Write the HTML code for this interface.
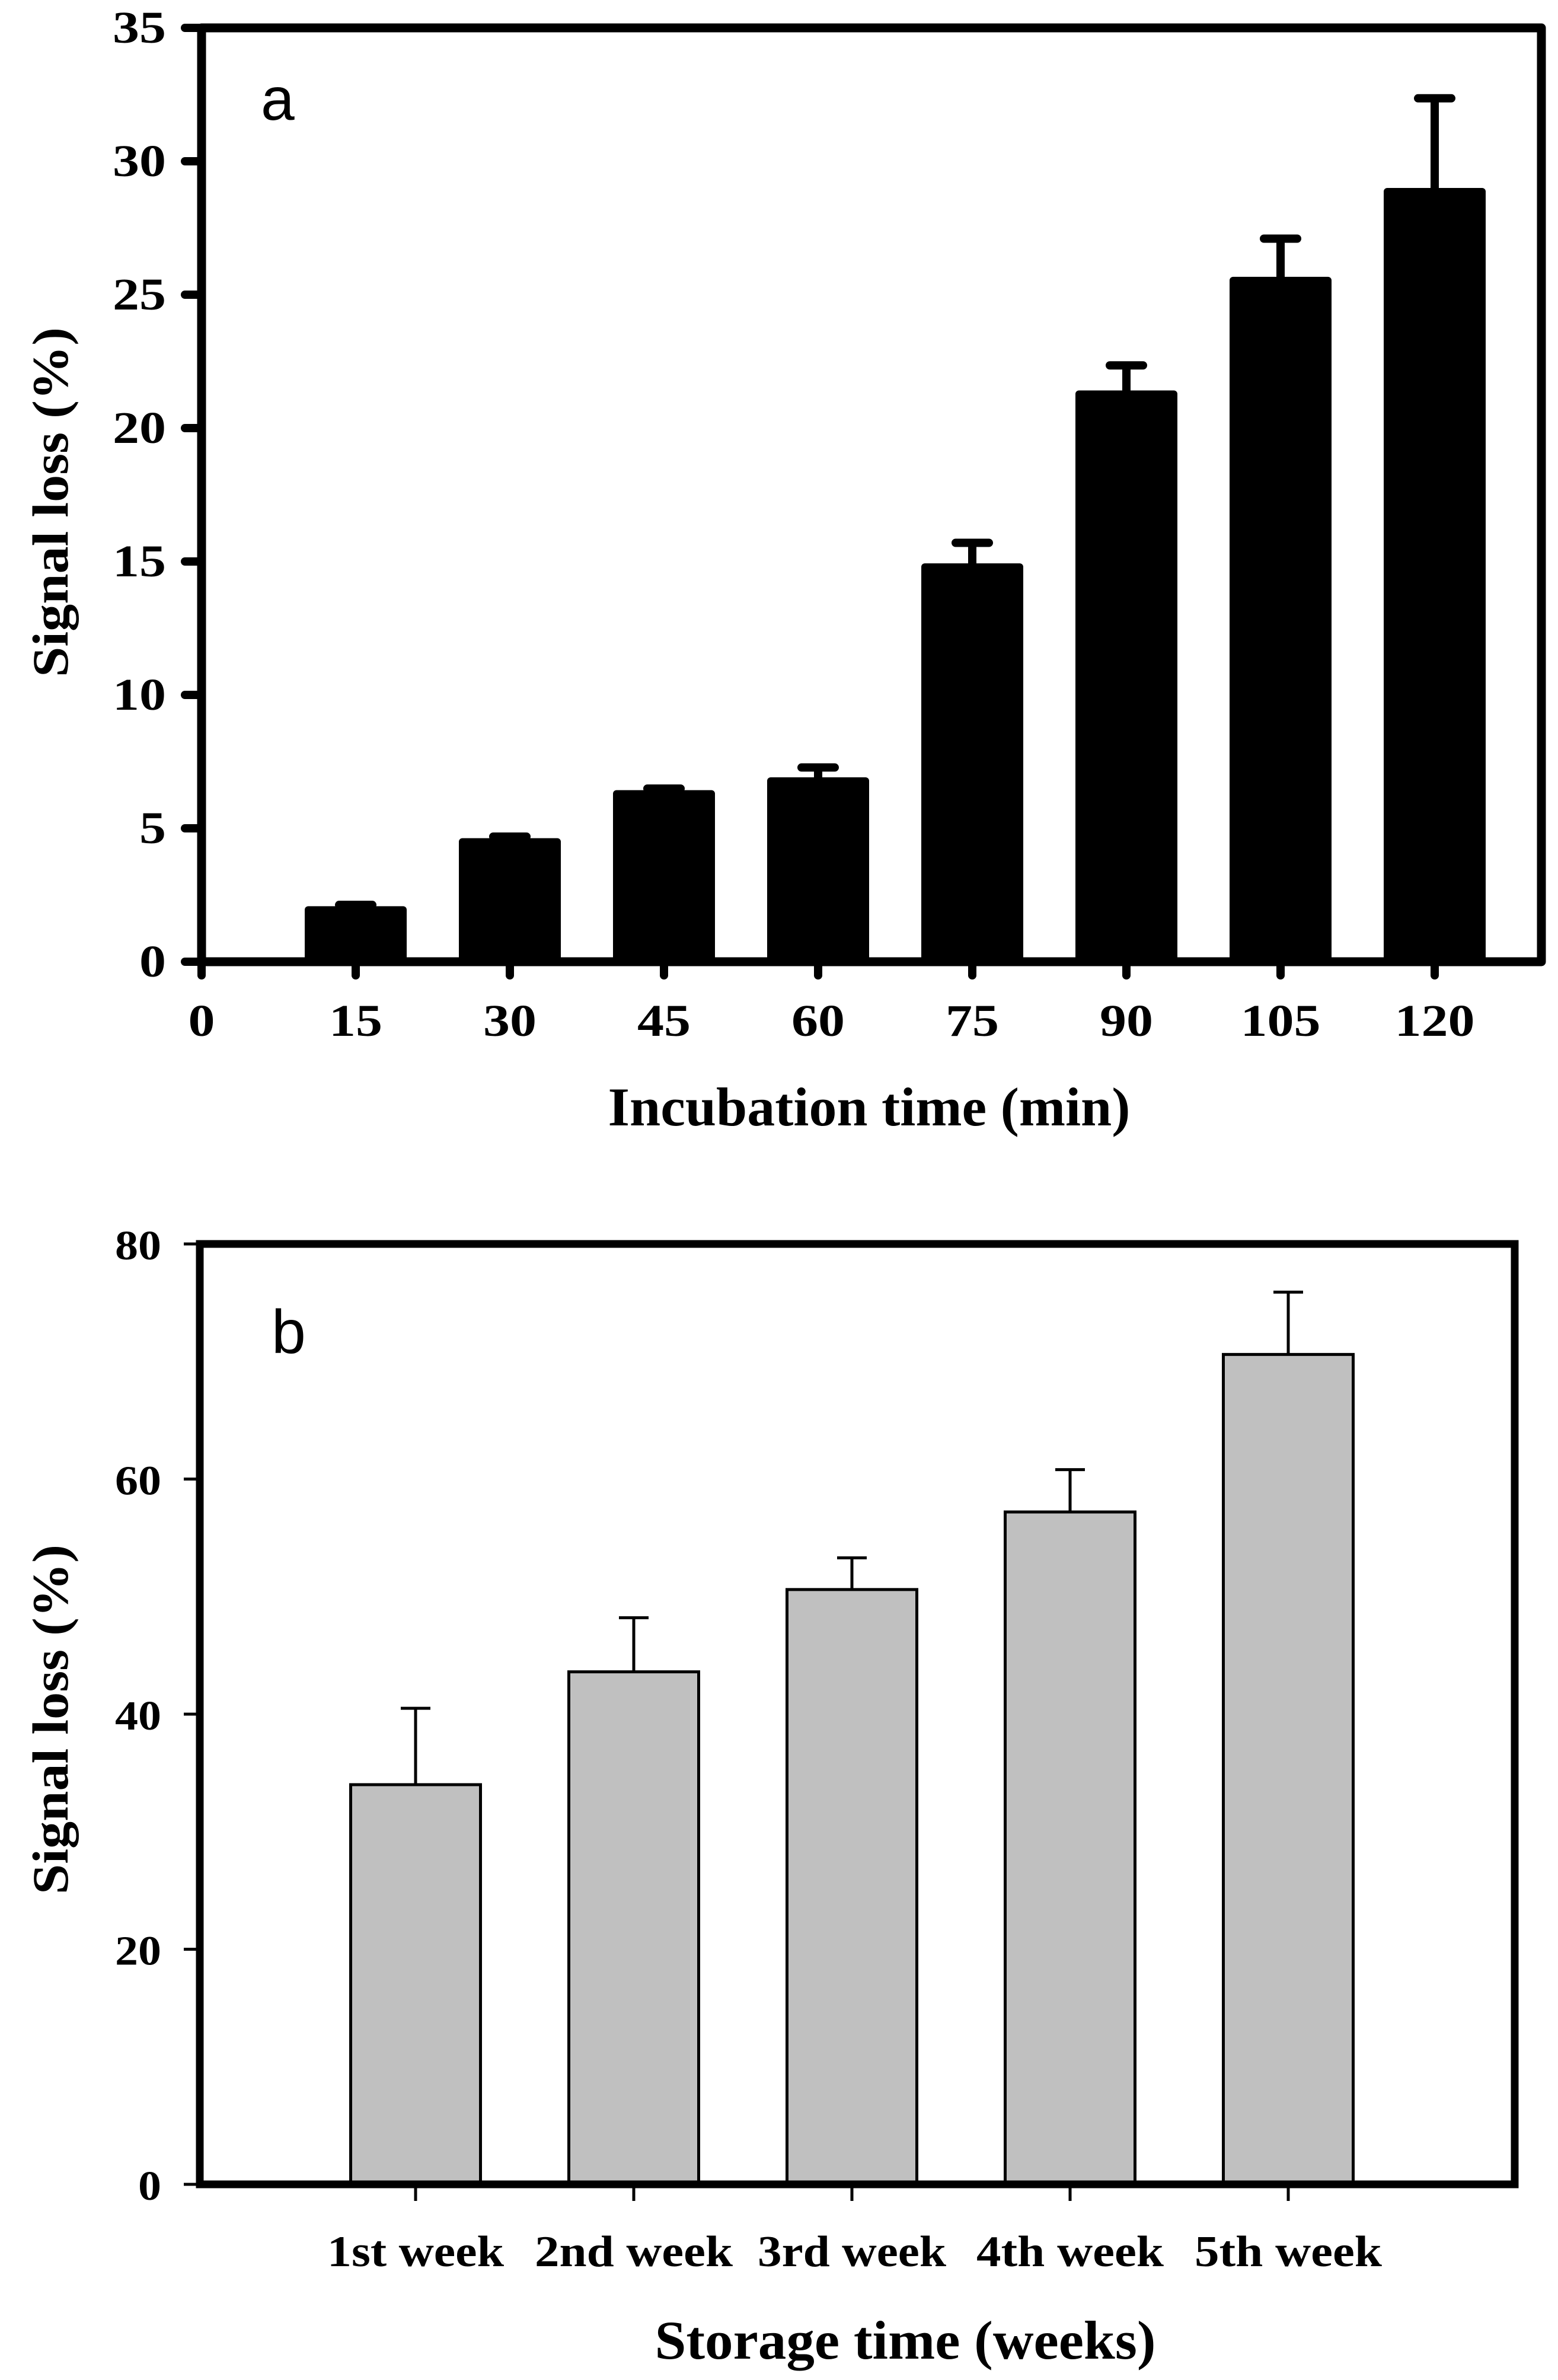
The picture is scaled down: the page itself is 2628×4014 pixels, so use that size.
<!DOCTYPE html>
<html><head><meta charset="utf-8"><style>
html,body{margin:0;padding:0;background:#fff;}
svg{display:block;}
text{font-family:"Liberation Serif",serif;font-weight:bold;fill:#000;}
</style></head>
<body>
<svg id="fig" width="2628" height="4014" viewBox="0 0 2628 4014" xmlns="http://www.w3.org/2000/svg">
<rect x="0" y="0" width="2628" height="4014" fill="#fff"/>
<g id="chartA"></g>
<g id="chartB"></g>
</svg>
<script>
// Chart A data
const aCategories = [15, 30, 45, 60, 75, 90, 105, 120];
const aValues = [2.08, 4.63, 6.43, 6.91, 14.93, 21.41, 25.67, 29.0];
const aErrors = [0.05, 0.06, 0.06, 0.37, 0.77, 0.94, 1.43, 3.36];
const aXTicks = [0, 15, 30, 45, 60, 75, 90, 105, 120];
const aYTicks = [0, 5, 10, 15, 20, 25, 30, 35];
// Chart B data
const bCategories = ["1st week", "2nd week", "3rd week", "4th week", "5th week"];
const bValues = [34.0, 43.6, 50.6, 57.2, 70.6];
const bErrors = [6.5, 4.6, 2.7, 3.6, 5.3];
const bYTicks = [0, 20, 40, 60, 80];

const NS = "http://www.w3.org/2000/svg";
function mk(parent, tag, attrs, txt) {
  const e = document.createElementNS(NS, tag);
  for (const k in attrs) e.setAttribute(k, attrs[k]);
  if (txt !== undefined) e.textContent = txt;
  parent.appendChild(e);
  return e;
}

// ---------- Chart A ----------
(function () {
  const g = document.getElementById("chartA");
  const L = 340, R = 2600, T = 47, B = 1622;
  const yS = v => B - v * (B - T) / 35;
  const xS = v => L + v * (2420 - L) / 120;
  const bw = 172;
  aValues.forEach((v, i) => {
    const cx = xS(aCategories[i]);
    const r = mk(g, "rect", {x: cx - bw / 2, y: yS(v), width: bw, height: B - yS(v), rx: 6, fill: "#000"});
    
    
    const top = yS(v + aErrors[i]);
    const eb = mk(g, "path", {d: `M${cx},${yS(v)} L${cx},${top} M${cx - 28},${top} L${cx + 28},${top}`, stroke: "#000", "stroke-width": 14, "stroke-linecap": "round", fill: "none"});
    
    
  });
  const fr = mk(g, "rect", {x: L, y: T, width: R - L, height: B - T, fill: "none", stroke: "#000", "stroke-width": 15, "stroke-linejoin": "round"});
  
  
  aYTicks.forEach(t => {
    const y = yS(t);
    const tk = mk(g, "line", {x1: 312, y1: y, x2: L, y2: y, stroke: "#000", "stroke-width": 14, "stroke-linecap": "round"});
    
    
    const s = String(t);
    const lb = mk(g, "text", {x: 280, y: y + 25, "text-anchor": "end", "font-size": 76, textLength: s.length * 45, lengthAdjust: "spacingAndGlyphs"}, s);
    
    
  });
  aXTicks.forEach(t => {
    const x = xS(t);
    const tk = mk(g, "line", {x1: x, y1: B, x2: x, y2: 1645, stroke: "#000", "stroke-width": 14, "stroke-linecap": "round"});
    
    
    const s = String(t);
    const lb = mk(g, "text", {x: x, y: 1747, "text-anchor": "middle", "font-size": 76, textLength: s.length * 45, lengthAdjust: "spacingAndGlyphs"}, s);
    
    
  });
  const xt = mk(g, "text", {x: 1466, y: 1898, "text-anchor": "middle", "font-size": 92, textLength: 881, lengthAdjust: "spacingAndGlyphs"}, "Incubation time (min)");
  
  
  const yt = mk(g, "text", {x: 0, y: 0, "text-anchor": "middle", "font-size": 86, textLength: 590, lengthAdjust: "spacingAndGlyphs", transform: "translate(114,847) rotate(-90)"}, "Signal loss (%)");
  
  
  const pl = mk(g, "text", {x: 440, y: 202, "font-size": 102, style: "font-family:'Liberation Sans',sans-serif;font-weight:normal"}, "a");
  
  
})();

// ---------- Chart B ----------
(function () {
  const g = document.getElementById("chartB");
  const L = 337, R = 2555, T = 2098, B = 3684;
  const yS = v => B - v * (B - T) / 80;
  const x0 = 701, step = 368;
  const xS = i => x0 + i * step;
  const bw = 219;
  bValues.forEach((v, i) => {
    const cx = xS(i);
    const top = yS(v + bErrors[i]);
    const eb = mk(g, "path", {d: `M${cx},${yS(v)} L${cx},${top} M${cx - 25},${top} L${cx + 25},${top}`, stroke: "#000", "stroke-width": 5, fill: "none"});
    
    
    const r = mk(g, "rect", {x: cx - bw / 2, y: yS(v), width: bw, height: B - yS(v), fill: "#c0c0c0", stroke: "#000", "stroke-width": 5});
    
    
  });
  const fr = mk(g, "rect", {x: L, y: T, width: R - L, height: B - T, fill: "none", stroke: "#000", "stroke-width": 13});
  
  
  bYTicks.forEach(t => {
    const y = yS(t);
    const tk = mk(g, "line", {x1: 310, y1: y, x2: L, y2: y, stroke: "#000", "stroke-width": 5});
    
    
    const s = String(t);
    const lb = mk(g, "text", {x: 272, y: y + 26, "text-anchor": "end", "font-size": 70, textLength: s.length * 39, lengthAdjust: "spacingAndGlyphs"}, s);
    
    
  });
  const widths = [298, 334, 318, 316, 316];
  bCategories.forEach((c, i) => {
    const x = xS(i);
    const tk = mk(g, "line", {x1: x, y1: B, x2: x, y2: B + 28, stroke: "#000", "stroke-width": 5});
    
    
    const lb = mk(g, "text", {x: x, y: 3822, "text-anchor": "middle", "font-size": 74, textLength: widths[i], lengthAdjust: "spacingAndGlyphs"}, c);
    
    
  });
  const xt = mk(g, "text", {x: 1527, y: 3978, "text-anchor": "middle", "font-size": 92, textLength: 845, lengthAdjust: "spacingAndGlyphs"}, "Storage time (weeks)");
  
  
  const yt = mk(g, "text", {x: 0, y: 0, "text-anchor": "middle", "font-size": 86, textLength: 590, lengthAdjust: "spacingAndGlyphs", transform: "translate(114,2900) rotate(-90)"}, "Signal loss (%)");
  
  
  const pl = mk(g, "text", {x: 458, y: 2282, "font-size": 104, style: "font-family:'Liberation Sans',sans-serif;font-weight:normal"}, "b");
  
  
})();
</script>
</body></html>
